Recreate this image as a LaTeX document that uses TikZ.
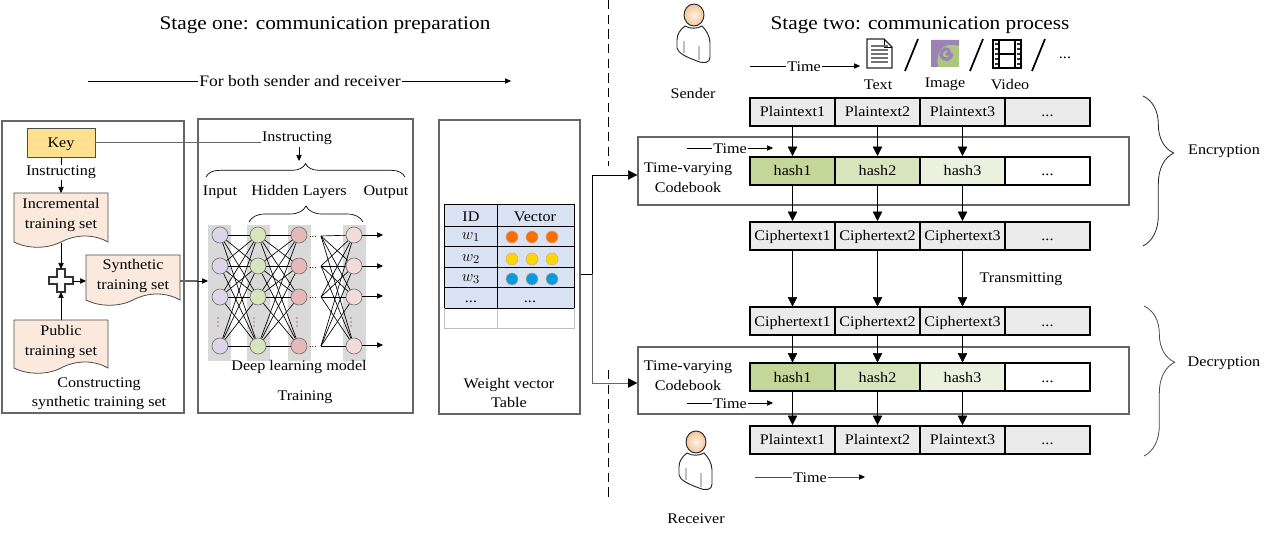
\documentclass[tikz,border=0pt]{standalone}
\usepackage{fontspec}
\setmainfont[FakeStretch=1.1]{Liberation Serif}
\usetikzlibrary{arrows.meta,decorations.pathreplacing,fit,calc}

\definecolor{docfill}{HTML}{FBE9DD}
\definecolor{keyfill}{HTML}{FFE08F}
\definecolor{tablefill}{HTML}{D9E2F3}
\definecolor{hashone}{HTML}{C4D79B}
\definecolor{hashtwo}{HTML}{D8E4BC}
\definecolor{hashthree}{HTML}{EBF1DE}
\definecolor{purplemark}{HTML}{9C83B5}
\definecolor{greenmark}{HTML}{AEC57F}

\tikzset{
    txt/.style={inner sep=0.5pt,yshift=-1pt,font=\fontsize{11}{12.5}\selectfont},
    panel/.style={draw=black!60,line width=0.9pt,inner sep=0pt},
    cell/.style={draw=black,line width=1.5pt,minimum width=63.75pt,minimum height=21pt,inner sep=0pt,
        font=\fontsize{11}{12.5}\selectfont,text height=8pt,text depth=1pt},
    gaptip/.style={-{Triangle[length=7pt,width=7pt,black]}},
    smalltip/.style={-{Triangle[length=4.5pt,width=4pt,black]}},
    neuron/.style={circle,draw=black!55,line width=0.5pt,minimum size=12pt,inner sep=0pt},
    curly/.style={decorate,decoration={brace,amplitude=#1}},
    person/.pic={
        \draw[black!85,fill=white,line width=0.7pt](-9,11)..controls(-14,15)and(-17,19)..(-17,25)
            --(-17,33)..controls(-16,38)and(-8,42)..(3,46)..controls(10,49)and(16,48)..(16,42)
            --(16,28)..controls(16,21)and(12,15)..(8,11)..controls(3,14)and(-4,14)..(-9,11)--cycle;
        \draw[black!25,line width=1pt](-10,26)--(-10,38);
        \draw[black!25,line width=1pt](5,31)--(5,45);
        \draw[black!85,line width=0.7pt,inner color=orange!10,outer color=orange!50!brown!45](0,0)ellipse(10 and 11);
    },
}

% the wavy document shape, #1 = left, #2 = top, #3 = height
\newcommand{\wavedoc}[3]{
    \draw[shift={(#1,#2)},black!70,fill=docfill,line width=0.6pt](0,0)--(94,0)--(94,#3)
        ..controls(80,#3-8)and(62,#3-8)..(47,#3)
        ..controls(33,#3+7)and(14,#3+7)..(0,#3)--cycle;
}

\begin{document}
\begin{tikzpicture}[x=0.75pt,y=-0.75pt]
    \useasboundingbox(0,0)rectangle(1271,534);

    % titles
    \node[txt,font=\fontsize{14.5}{16}\selectfont](stageA)at(325,24){Stage one: communication preparation};
    \node[txt,font=\fontsize{14.5}{16}\selectfont](stageB)at(920,24){Stage two: communication process};
    \node[txt,font=\fontsize{12}{14}\selectfont](both)at(300,80){For both sender and receiver};
    \coordinate(bothL)at(88,81);
    \coordinate(bothR)at(511,81);
    \draw(bothL)--(bothL-|both.west);
    \draw[smalltip](bothR-|both.east)--(bothR);

    \draw[line width=0.7pt,dash pattern=on 7pt off 4pt](608,0)--(608,166);
    \draw[line width=0.7pt,dash pattern=on 7pt off 4pt](608,370)--(608,497);

    % panels
    \node[panel,fit={(2,121)(184,413)}](buildbox){};
    \node[panel,fit={(198,119)(413,413)}](trainbox){};
    \node[panel,fit={(439,120)(580,414)}](weightbox){};
    \node[panel,fit={(638,137)(1129,205)}](codeA){};
    \node[panel,fit={(638,347)(1129,414)}](codeB){};

    % constructing the training set
    \node[draw=black!70,fill=keyfill,line width=0.7pt,inner sep=0pt,fit={(27,128)(95,157)}](key){};
    \node[txt](keyL)at(key.center){Key};
    \node[txt](instrA)at(61,171){Instructing};
    \wavedoc{14}{193}{49}
    \wavedoc{86}{255}{45}
    \wavedoc{14}{320}{48}
    \node[txt,align=center](incr)at(61,213.5){Incremental\\[2pt]training set};
    \node[txt,align=center](synth)at(133,274.5){Synthetic\\[2pt]training set};
    \node[txt,align=center](pub)at(61,340.5){Public\\[2pt]training set};
    \coordinate(incrS)at(61,243);
    \coordinate(pubN)at(61,320);
    \coordinate(synthW)at(86,281);
    \coordinate(synthE)at(180,281);
    \node[inner sep=0pt,minimum size=17pt](adder)at(61,281){};
    \draw[black!80,fill=white,line width=0.9pt](57,269)--(65,269)--(65,277)--(73,277)--(73,284)--(65,284)
        --(65,292)--(57,292)--(57,284)--(49,284)--(49,277)--(57,277)--cycle;
    \node[txt,align=center](build)at(99,392.5){Constructing\\[2pt]synthetic training set};
    \draw(key.south)--(instrA);
    \draw[smalltip](instrA)--(61,193);
    \draw[smalltip](incrS)--(61,269);
    \draw[smalltip](pubN)--(61,292);
    \draw[smalltip](73,281)--(synthW);

    % network
    \node[txt](instrB)at(297,137){Instructing};
    \draw[black!60,line width=0.9pt](key.east)--(key.east-|instrB.west);
    \coordinate(braceTop)at(299,161);
    \draw[smalltip](299,147)--(braceTop);
    \draw[curly=10pt,line width=0.5pt](206,177)--(405,177);
    \node[txt](inputL)at(220,191){Input};
    \node[txt](hiddenL)at(299,191){Hidden Layers};
    \node[txt](outputL)at(386,191){Output};
    \draw[curly=12pt,line width=0.5pt](249,222)--(363,222);
    \foreach \x in {219.5,258.5,299,354.5}
        \fill[black!15](\x-11.5,225)rectangle(\x+11.5,361);
    \definecolor{colA}{HTML}{DDD6E8}
    \definecolor{colB}{HTML}{D7E4BC}
    \definecolor{colC}{HTML}{E6B8B7}
    \definecolor{colD}{HTML}{F2DCDB}
    \foreach \c/\x in {A/220,B/258,C/299,D/354}{
        \foreach \r/\y in {1/235,2/266,3/297,4/346}
            \node[neuron,fill=col\c](n\c\r)at(\x,\y){};
    }
    \foreach \r/\y in {1/236,2/266,3/297,4/346}{
        \coordinate(gap\r)at(321,\y);
        \foreach \s in {1,2,3,4}{
            \draw[line width=0.5pt](nA\r)--(nB\s);
            \draw[line width=0.5pt](nB\r)--(nC\s);
            \draw[line width=0.5pt](gap\r)--(nD\s);
        }
    }
    \foreach \r/\y in {1/236,2/267,3/297,4/346}{
        \node[txt,font=\scriptsize](more\r)at(313,\y){...};
        \coordinate(out\r)at(383,\y-1);
        \draw[smalltip](nD\r.east)--(out\r-|nD\r.east)--(out\r);
    }
    \foreach \x in {218,254,297,351}
        \foreach \y in {318,322,326}
            \fill[red!50!black](\x,\y)circle(0.7);
    \node[txt](deepL)at(299,366){Deep learning model};
    \node[txt](trainL)at(305,396){Training};
    \draw[black!60,line width=0.8pt](synthE)--(synthE-|trainbox.west);
    \draw[smalltip](synthE-|trainbox.west)--(208,281);

    % weight vector table
    \fill[tablefill](444.5,204)rectangle(574,308);
    \draw[black!25](444.5,308)rectangle(574,328);
    \draw[black!25](497,308)--(497,328);
    \foreach \y in {204,226,246,267,287,308}
        \draw[line width=0.7pt](444.5,\y)--(574,\y);
    \foreach \x in {444.5,497,574}
        \draw[line width=0.7pt](\x,204)--(\x,308);
    \node[txt](idL)at(471,215){ID};
    \node[txt](vecL)at(535,215){Vector};
    \node[txt,font=\fontsize{13}{14}\selectfont](wA)at(471,236){$w_1$};
    \node[txt,font=\fontsize{13}{14}\selectfont](wB)at(471,258){$w_2$};
    \node[txt,font=\fontsize{13}{14}\selectfont](wC)at(471,278){$w_3$};
    \node[txt](wD)at(471,301){...};
    \node[txt](vD)at(530,301){...};
    \foreach \x in {512,532,552}{
        \filldraw[fill=orange!85!red!90!brown,draw=brown!70](\x,237)circle(6);
        \filldraw[fill=yellow!75!orange,draw=brown!70](\x,259)circle(6);
        \filldraw[fill=cyan!85!blue,draw=brown!70](\x,279)circle(6);
    }
    \node[txt,align=center](weightL)at(509,391.5){Weight vector\\[2pt]Table};

    \coordinate(fork)at(592,274);
    \coordinate(upTurn)at(592,175);
    \coordinate(downTurn)at(592,383);
    \draw(fork-|weightbox.east)--(fork);
    \draw[gaptip](fork)--(upTurn)--(upTurn-|codeA.west);
    \draw[black!60,line width=0.7pt,gaptip](fork)--(downTurn)--(downTurn-|codeB.west);

    % sender, receiver and the media
    \pic at(694,15){person};
    \pic at(696,442){person};
    \node[txt](senderL)at(693,92){Sender};
    \node[txt](receiverL)at(696,517){Receiver};
    \node[txt](timeA)at(804,65){Time};
    \coordinate(timeAs)at(750,66);
    \coordinate(timeAe)at(860,66);
    \draw(timeAs)--(timeAs-|timeA.west);
    \draw[smalltip](timeAe-|timeA.east)--(timeAe);

    % text icon
    \draw[line width=1pt,black!85](867,39)--(884,39)--(892,47)--(892,68)--(867,68)--cycle;
    \draw[line width=0.6pt](884,39)--(884,47)--(892,47);
    \foreach \y in {46,50,54,58,62}
        \draw[black!55,line width=0.8pt](871,\y)--(888,\y);
    % image icon
    \fill[greenmark](931,40)rectangle(959,67);
    \fill[purplemark](931,40)--(959,40)--(959,46)..controls(945,41)and(935,50)..(938,67)--(931,67)--cycle;
    \draw[purplemark,line width=2.5pt](951,53)..controls(953,60)and(943,62)..(941,55)..controls(941,48)and(950,47)..(949,53)--(946,55);
    % video icon
    \draw[line width=1.1pt](993,40)rectangle(1021,68);
    \draw[line width=1pt](999,40)--(999,68);
    \draw[line width=1pt](1015,40)--(1015,68);
    \draw[line width=1pt](999,54)--(1015,54);
    \foreach \x in {996,1018}
        \foreach \y in {44,49,54,59,64}
            \fill[black!80](\x-1.5,\y-1)rectangle(\x+1.5,\y+1);
    \foreach \x in {905,970,1032}
        \draw[line width=1.3pt](\x,71)--(\x+13,39);
    \node[txt](textL)at(878,83){Text};
    \node[txt](imageL)at(945,83){Image};
    \node[txt](videoL)at(1010,83){Video};
    \node[txt](moreL)at(1065,57){...};

    % the strips
    \foreach \r/\yc/\word in {plainA/112/Plaintext,ciphA/236/Ciphertext,ciphB/321.5/Ciphertext,plainB/440/Plaintext}{
        \foreach \i/\x in {1/792.5,2/877.5,3/962.5}
            \node[cell,fill=black!8](\r\i)at(\x,\yc){\word\i};
        \node[cell,fill=black!8](\r4)at(1047.5,\yc){...};
    }
    \foreach \r/\yc in {hashA/171,hashB/377.5}{
        \node[cell,fill=hashone](\r1)at(792.5,\yc){hash1};
        \node[cell,fill=hashtwo](\r2)at(877.5,\yc){hash2};
        \node[cell,fill=hashthree](\r3)at(962.5,\yc){hash3};
        \node[cell,fill=white](\r4)at(1047.5,\yc){...};
    }
    \foreach \i in {1,2,3}{
        \draw[gaptip](plainA\i)--(hashA\i);
        \draw[gaptip](hashA\i)--(ciphA\i);
        \draw[gaptip](ciphA\i)--(ciphB\i);
        \draw[gaptip](ciphB\i)--(hashB\i);
        \draw[gaptip](hashB\i)--(plainB\i);
    }
    \node[txt](transL)at(1021,278){Transmitting};

    \node[txt,align=center](codeAL)at(688,176.5){Time-varying\\[2pt]Codebook};
    \node[txt,align=center](codeBL)at(688,374.5){Time-varying\\[2pt]Codebook};
    \node[txt](timeB)at(730,147){Time};
    \coordinate(timeBs)at(687,148);
    \coordinate(timeBe)at(773,148);
    \draw(timeBs)--(timeBs-|timeB.west);
    \draw[smalltip](timeBe-|timeB.east)--(timeBe);
    \node[txt](timeC)at(730,402){Time};
    \coordinate(timeCs)at(687,403);
    \coordinate(timeCe)at(773,403);
    \draw(timeCs)--(timeCs-|timeC.west);
    \draw[smalltip](timeCe-|timeC.east)--(timeCe);
    \node[txt](timeD)at(810,476){Time};
    \coordinate(timeDs)at(755,477);
    \coordinate(timeDe)at(865,477);
    \draw[black!70](timeDs)--(timeDs-|timeD.west);
    \draw[black!70,smalltip](timeDe-|timeD.east)--(timeDe);

    % encryption and decryption
    \draw[decorate,decoration={brace,amplitude=23pt,aspect=0.38},line width=0.6pt,black!85](1143,96)--(1143,246);
    \draw[decorate,decoration={brace,amplitude=23pt,aspect=0.375},line width=0.6pt,black!70](1144,306)--(1144,456);
    \node[txt](encL)at(1224,150){Encryption};
    \node[txt](decL)at(1224,362){Decryption};
\end{tikzpicture}
\end{document}
